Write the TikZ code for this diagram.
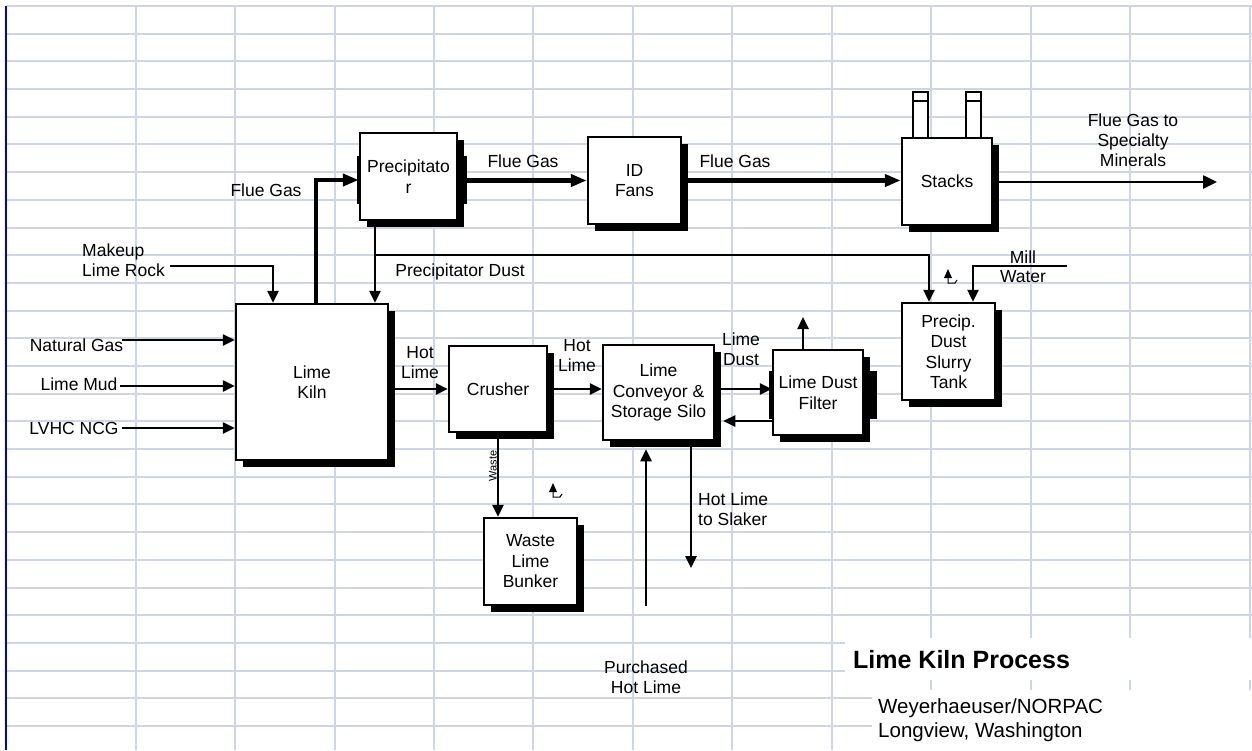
\documentclass[tikz,border=0pt]{standalone}
\usepackage{fontspec}
\setmainfont{Liberation Sans}
\usetikzlibrary{arrows.meta,shadows}

\definecolor{gridblue}{RGB}{206,213,228}
\definecolor{marginblue}{RGB}{0,0,210}

\begin{document}
\begin{tikzpicture}[x=1pt, y=-1pt,
        unit/.style={draw, rectangle, line width=2.5pt, fill=white, align=center,
            font=\fontsize{17.5}{20.5}\selectfont, inner sep=2pt,
            drop shadow={shadow xshift=7pt, shadow yshift=-7pt, fill=black, opacity=1}},
        lbl/.style={align=center, font=\fontsize{17.5}{20}\selectfont, inner sep=0pt},
        flow/.style={line width=2.5pt, -{Triangle[length=12pt, width=11pt]}},
        gasflow/.style={line width=4.5pt, -{Triangle[length=16pt, width=12pt]}},
        gridline/.style={draw=gridblue, line width=2pt},
        hookmark/.pic={
            \fill (0,-8) -- (-4,1) -- (4,1) -- cycle;
            \draw[line width=1pt] (0,1) -- (0,6) -- (7,6) -- (9,3);
        }]
        \useasboundingbox (0,0) rectangle (1252,750);

        % Sheet grid
        \foreach \k in {0,...,26}
            \draw[gridline] (6,{6+27.69*\k}) -- (1252,{6+27.69*\k});
        \foreach \x in {136,235,335,434,533,633,732,832,931,1031,1130,1250}
            \draw[gridline] (\x,6) -- (\x,750);
        \draw[marginblue, line width=2pt] (6,6) -- (6,750);
        \fill[white] (845,638) rectangle (1253,680);
        \fill[white] (872,690) rectangle (1253,751);

        % Title
        \node[anchor=west, inner sep=0pt, font=\bfseries\fontsize{25}{28}\selectfont] (title) at (853,660) {Lime Kiln Process};
        \node[anchor=west, align=left, inner sep=0pt, font=\fontsize{20.5}{24}\selectfont] (site) at (878,720) {Weyerhaeuser/NORPAC\\Longview, Washington};

        % Chimneys
        \filldraw[fill=white, line width=2.5pt] (913,138) rectangle (928,92);
        \filldraw[fill=white, line width=2.5pt] (966,138) rectangle (981,92);
        \draw[line width=2.5pt] (913,101) -- (928,101);
        \draw[line width=2.5pt] (966,101) -- (981,101);

        % Units
        \node[unit, minimum width=152pt, minimum height=156pt] (kiln) at (312,382) {Lime\\Kiln};
        \node[unit, minimum width=97pt, minimum height=87pt] (precip) at (408.5,176.5) {Precipitato\\r};
        \node[unit, minimum width=93pt, minimum height=87pt] (fans) at (634.5,180.5) {ID\\Fans};
        \node[unit, minimum width=90pt, minimum height=87pt] (stacks) at (947,181.5) {Stacks};
        \node[unit, minimum width=93pt, minimum height=97pt] (slurry) at (948.5,351.5) {Precip.\\Dust\\Slurry\\Tank};
        \node[unit, minimum width=98pt, minimum height=86pt] (crusher) at (498,389) {Crusher};
        \node[unit, minimum width=111pt, minimum height=95pt] (silo) at (658.5,392.5) {Lime\\Conveyor \&\\Storage Silo};
        \node[unit, minimum width=90pt, minimum height=85pt] (filter) at (818,392.5) {Lime Dust\\Filter};
        \node[unit, minimum width=93pt, minimum height=87pt] (bunker) at (530.5,561.5) {Waste\\Lime\\Bunker};

        % Connection bars
        \fill (357,156) rectangle (361,204);
        \fill (457,156) rectangle (467,204);
        \fill (769,371) rectangle (773,419);
        \fill (863,371) rectangle (877,419);

        % Free ends
        \coordinate (mineralsEnd) at (1217,182);
        \coordinate (dustTee) at (375,255);
        \coordinate (millIn) at (1067,266);
        \coordinate (rockIn) at (170,266);
        \coordinate (gasIn) at (122,340);
        \coordinate (mudIn) at (120,386);
        \coordinate (ncgIn) at (122,428);
        \coordinate (ventTop) at (803,317);
        \coordinate (slakerOut) at (691,568);
        \coordinate (buyIn) at (646,606);
        \coordinate (siloBase) at ([yshift=-8pt]silo.south);

        % Flue gas
        \draw[gasflow] ([xshift=4pt]kiln.north) |- ([yshift=-3.5pt]precip.west);
        \draw[gasflow] (precip.east |- fans.west) -- (fans.west);
        \draw[gasflow] (fans.east) -- (fans.east -| stacks.west);
        \draw[flow, -{Triangle[length=14pt, width=13pt]}] (stacks.east |- mineralsEnd) -- (mineralsEnd);

        % Dust and water
        \draw[flow] ([xshift=-33.5pt]precip.south) -- ([xshift=63pt]kiln.north);
        \draw[flow] (dustTee) -| ([xshift=-19.5pt]slurry.north);
        \draw[flow] (millIn) -| ([xshift=24.5pt]slurry.north);

        % Kiln feeds
        \draw[flow] (rockIn) -| ([xshift=-39pt]kiln.north);
        \draw[flow] (gasIn) -- (gasIn -| kiln.west);
        \draw[flow] (mudIn) -- (mudIn -| kiln.west);
        \draw[flow] (ncgIn) -- (ncgIn -| kiln.west);

        % Lime
        \draw[flow] (kiln.east |- crusher.west) -- (crusher.west);
        \draw[flow] (crusher.east) -- (crusher.east -| silo.west);
        \draw[flow] ([yshift=3.5pt]silo.east) -- ([yshift=3.5pt]filter.west);
        \draw[flow] ([yshift=-28.5pt]filter.west) -- ([xshift=8pt, yshift=-28.5pt]silo.east);
        \draw[flow] (filter.north -| ventTop) -- (ventTop);
        \draw[flow] (crusher.south) -- (crusher.south |- bunker.north);
        \draw[flow] (silo.south -| slakerOut) -- (slakerOut);
        \draw[flow] (buyIn) -- (buyIn |- siloBase);

        % Labels
        \node[lbl] (flueA) at (266,190) {Flue Gas};
        \node[lbl] (flueB) at (523,161) {Flue Gas};
        \node[lbl] (flueC) at (735,161) {Flue Gas};
        \node[lbl] (mineralsLbl) at (1133,140) {Flue Gas to\\Specialty\\Minerals};
        \node[lbl] (dustLbl) at (460,272) {Precipitator Dust};
        \node[lbl, font=\fontsize{17.5}{19}\selectfont] (millLbl) at (1023,266.5) {Mill\\Water};
        \node[lbl, anchor=west, align=left] (rockLbl) at (82,260) {Makeup\\Lime Rock};
        \node[lbl] (gasLbl) at (76.5,345) {Natural Gas};
        \node[lbl] (mudLbl) at (79,384) {Lime Mud};
        \node[lbl] (ncgLbl) at (74,428) {LVHC NCG};
        \node[lbl] (hotA) at (420,363) {Hot\\Lime};
        \node[lbl] (hotB) at (577,356) {Hot\\Lime};
        \node[lbl] (dustOut) at (741,349.5) {Lime\\Dust};
        \node[lbl, anchor=west, align=left] (slakerLbl) at (698,509) {Hot Lime\\to Slaker};
        \node[lbl] (buyLbl) at (646,677) {Purchased\\Hot Lime};
        \node[lbl, rotate=90, font=\fontsize{11}{12}\selectfont] (wasteLbl) at (493,466) {Waste};

        % Stray marks
        \pic at (948,277) {hookmark};
        \pic at (553,491) {hookmark};
\end{tikzpicture}
\end{document}
